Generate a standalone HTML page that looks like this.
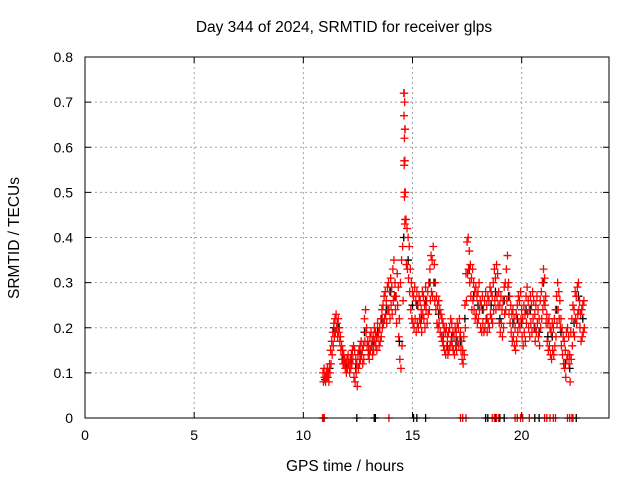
<!DOCTYPE html>
<html><head><meta charset="utf-8"><style>
body{margin:0;background:#fff;}
svg{display:block;font-family:"Liberation Sans",sans-serif;}
</style></head><body>
<svg id="chart" width="640" height="480" xmlns="http://www.w3.org/2000/svg"></svg>
<script>
const xTicks=[0,5,10,15,20];
const yTicks=[0,0.1,0.2,0.3,0.4,0.5,0.6,0.7,0.8];
const yTickLabels=["0","0.1","0.2","0.3","0.4","0.5","0.6","0.7","0.8"];
const redStart=10.9, redStep=0.05;
const redA=[.10,.11,.09,.10,.11,.10,.12,.15,.17,.19,.21,.22,.23,.21,.22,.20,.18,.16,.15,.14,
.13,.12,.13,.14,.12,.13,.14,.15,.16,.15,.13,.12,.14,.15,.16,.17,.15,.16,.22,.24,
.20,.17,.16,.18,.19,.17,.18,.20,.19,.18,.21,.19,.20,.22,.24,.25,.27,.28,.26,.29,
.30,.28,.31,.29,.33,.35,.30,.27,.32,.29,.22,.30,.35,.38,.72,.64,.44,.42,.40,.38,
.33,.30,.28,.27,.29,.26,.28,.25,.27,.26,.24,.28,.27,.25,.29,.26,.28,.30,.33,.36,
.35,.38,.34,.30,.27,.25,.26,.24,.23,.22,.21,.20,.19,.20,.18,.19,.20,.22,.21,.19,
.18,.20,.19,.21,.20,.22,.19,.17,.15,.18,.25,.32,.39,.40,.37,.34,.31,.33,.30,.28,
.29,.27,.28,.30,.26,.25,.27,.24,.26,.28,.25,.27,.26,.29,.28,.27,.30,.33,.31,.34,
.32,.28,.25,.27,.24,.26,.29,.30,.33,.36,.30,.27,.25,.23,.24,.22,.20,.23,.25,.27,
.26,.28,.24,.22,.25,.23,.27,.29,.26,.24,.27,.25,.28,.26,.23,.25,.27,.24,.22,.26,
.28,.30,.33,.31,.27,.23,.21,.22,.20,.19,.21,.20,.22,.24,.27,.30,.28,.26,.22,.20,
.18,.17,.15,.19,.20,.18,.14,.19,.22,.25,.24,.28,.27,.29,.30,.26,.23,.24,.25,.26];
const redB=[.08,.09,.08,.09,.09,.08,.10,.12,.14,.16,.18,.19,.20,.18,.19,.17,.15,.13,.12,.12,
.11,.10,.11,.12,.10,.11,.12,.13,.09,.08,.10,.07,.11,.12,.13,.14,.12,.13,.17,.19,
.16,.14,.13,.15,.16,.14,.15,.17,.16,.15,.18,.16,.17,.18,.20,.21,.22,.23,.21,.24,
.24,.22,.25,.23,.26,.27,.24,.21,.25,.18,.13,.11,.16,.26,.57,.50,.34,.33,.31,.28,
.24,.22,.21,.20,.22,.19,.21,.20,.22,.21,.19,.23,.22,.20,.24,.21,.23,.24,.26,.28,
.27,.30,.26,.24,.21,.20,.21,.19,.18,.17,.16,.15,.14,.16,.14,.15,.16,.17,.16,.15,
.14,.16,.15,.17,.16,.18,.15,.13,.12,.14,.20,.26,.32,.33,.30,.27,.24,.26,.24,.22,
.23,.21,.22,.24,.20,.19,.21,.19,.20,.22,.19,.21,.20,.23,.22,.21,.24,.26,.24,.27,
.25,.21,.19,.21,.18,.20,.23,.24,.26,.29,.23,.21,.19,.17,.18,.16,.15,.17,.19,.21,
.20,.22,.18,.16,.19,.17,.21,.23,.20,.18,.21,.19,.22,.20,.17,.19,.21,.18,.16,.20,
.22,.24,.26,.25,.21,.17,.15,.16,.14,.13,.15,.14,.16,.18,.21,.24,.22,.20,.16,.14,
.12,.11,.09,.13,.14,.12,.08,.13,.16,.19,.18,.22,.21,.23,.24,.20,.17,.18,.19,.20];
const spikeTimes=[14.62,14.64,14.61,14.66,14.63,14.65,14.62,14.64,14.63,14.66,14.65];
const spikeVals=[.72,.70,.67,.64,.62,.57,.56,.50,.49,.44,.43];
const blackStart=11.0, blackStep=0.2;
const blackVals=[.085,.11,.20,.20,.13,.12,.13,.11,.14,.19,.15,.16,.19,.22,.24,.28,.27,.17,.40,.35,
.25,.25,.22,.26,.30,.30,.23,.18,.16,.18,.17,.17,.22,.33,.27,.25,.24,.22,.25,.28,
.22,.26,.27,.21,.22,.21,.24,.24,.20,.19,.30,.18,.18,.24,.19,.12,.11,.21,.27,.22];
const redZeroTimes=[10.88,10.92,10.96,13.92,17.2,17.3,17.45,18.65,18.75,18.85,18.95,19.7,19.8,19.95,20.05,20.35,21.05,21.15,21.3,21.45,21.55,22.1,22.2,22.3,22.35];
const blackZeroTimes=[12.45,13.25,13.3,15.05,15.2,15.6,18.35,18.45,18.8,19.0,19.2,20.6,20.8,22.5];

const L=85,R=609,T=57,B=418,XMAX=24,YMAX=0.8;
const sx=v=>L+(R-L)*v/XMAX, sy=v=>B-(B-T)*v/YMAX;
const svg=document.getElementById('chart');
const NS='http://www.w3.org/2000/svg';
function mk(tag,attrs,parent){const e=document.createElementNS(NS,tag);for(const k in attrs)e.setAttribute(k,attrs[k]);(parent||svg).appendChild(e);return e;}

const grid=mk('g',{});


xTicks.forEach(v=>{if(v>0)mk('line',{x1:sx(v),x2:sx(v),y1:T,y2:B,stroke:'#a0a0a0','stroke-dasharray':'2,3','stroke-width':1},grid);});
yTicks.forEach(v=>{if(v>0&&v<YMAX)mk('line',{x1:L,x2:R,y1:sy(v),y2:sy(v),stroke:'#a0a0a0','stroke-dasharray':'2,3','stroke-width':1},grid);});

function plus(g,x,y,c){mk('path',{d:`M${x-4},${y}h8M${x},${y-4}v8`,stroke:c,'stroke-width':1.3,fill:'none'},g);}
const gb=mk('g',{});


blackVals.forEach((v,i)=>plus(gb,sx(blackStart+blackStep*i),sy(v),'#000'));
blackZeroTimes.forEach(t=>plus(gb,sx(t),sy(0),'#000'));
const gr=mk('g',{});


redB.forEach((v,i)=>plus(gr,sx(redStart+redStep*i+0.02),sy(v),'#f00'));
redA.forEach((v,i)=>plus(gr,sx(redStart+redStep*i),sy(v),'#f00'));
spikeVals.forEach((v,i)=>plus(gr,sx(spikeTimes[i]),sy(v),'#f00'));
redZeroTimes.forEach(t=>plus(gr,sx(t),sy(0),'#f00'));

const ax=mk('g',{});


mk('rect',{x:L,y:T,width:R-L,height:B-T,fill:'none',stroke:'#000','stroke-width':1},ax);
xTicks.forEach(v=>{const x=sx(v);mk('line',{x1:x,x2:x,y1:B,y2:B-6,stroke:'#000'},ax);mk('line',{x1:x,x2:x,y1:T,y2:T+6,stroke:'#000'},ax);
 const t=mk('text',{x:x,y:B+22,'text-anchor':'middle','font-size':14,fill:'#000'},ax);t.textContent=v;
 
 });
yTicks.forEach((v,i)=>{const y=sy(v);mk('line',{x1:L,x2:L+6,y1:y,y2:y,stroke:'#000'},ax);mk('line',{x1:R,x2:R-6,y1:y,y2:y,stroke:'#000'},ax);
 const t=mk('text',{x:L-12,y:y+5,'text-anchor':'end','font-size':14,fill:'#000'},ax);t.textContent=yTickLabels[i];
 
 });
const title=mk('text',{x:344,y:32,'text-anchor':'middle','font-size':15.5,fill:'#000'});
title.textContent='Day 344 of 2024, SRMTID for receiver glps';


const xt=mk('text',{x:345,y:471,'text-anchor':'middle','font-size':15.5,fill:'#000'});
xt.textContent='GPS time / hours';


const yt=mk('text',{x:0,y:0,'text-anchor':'middle','font-size':15.5,fill:'#000',transform:'translate(19,238) rotate(-90)'});
yt.textContent='SRMTID / TECUs';


</script>
</body></html>
